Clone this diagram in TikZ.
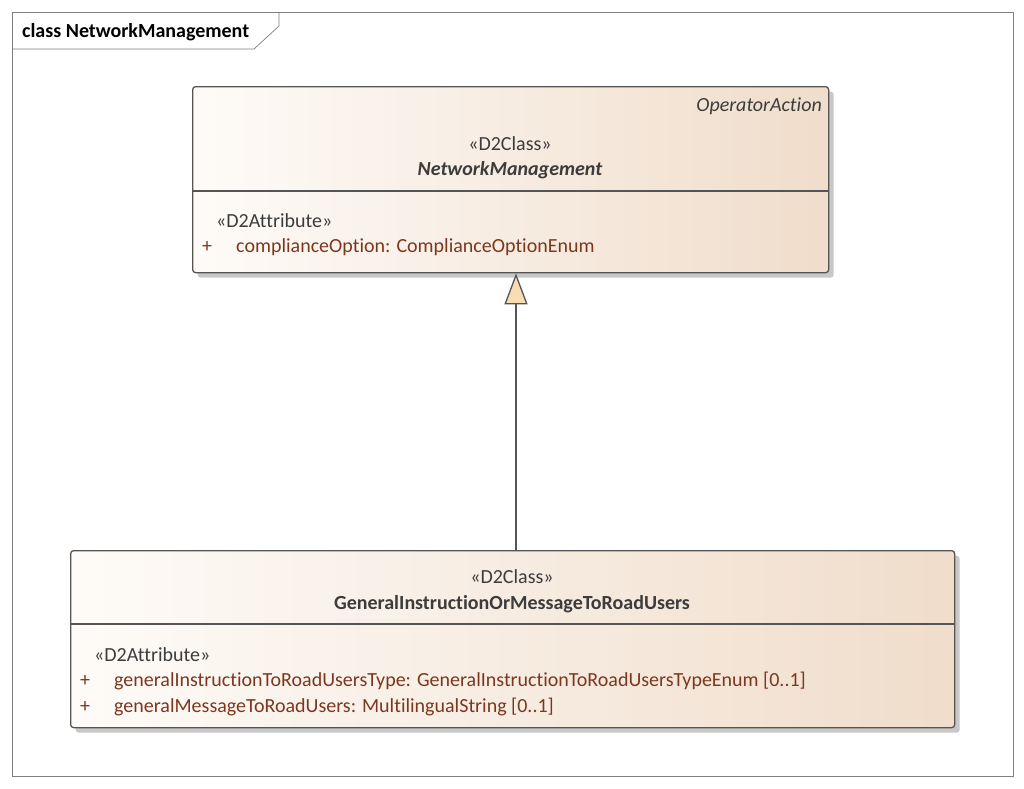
\documentclass[tikz,border=0pt]{standalone}
\usepackage{fontspec}
\setmainfont{Carlito}[Ligatures={NoCommon}]
\usetikzlibrary{arrows.meta,shadows}

\definecolor{linecol}{RGB}{85,85,85}
\definecolor{framecol}{RGB}{128,128,128}
\definecolor{stereo}{RGB}{60,60,60}
\definecolor{attrcol}{RGB}{125,55,30}
\definecolor{trifill}{RGB}{248,221,179}
\definecolor{shadeleft}{RGB}{254,251,248}
\definecolor{shaderight}{RGB}{240,221,203}
\definecolor{shadowcol}{RGB}{200,200,200}

\tikzset{
  classbox/.style={draw=linecol, line width=1.3pt, rounded corners=3pt,
    left color=shadeleft, right color=shaderight, anchor=north west,
    drop shadow={shadow xshift=5pt, shadow yshift=-5pt, fill=shadowcol, opacity=1}},
  txt/.style={font=\fontsize{20}{24}\selectfont, inner sep=0pt},
  stereotxt/.style={txt, text=stereo},
  attrtxt/.style={txt, text=attrcol, anchor=west},
  genarrow/.style={draw=linecol, line width=1.3pt,
    -{Triangle[width=23pt,length=31pt,fill=trifill]}}
}

\begin{document}
\begin{tikzpicture}[x=1pt,y=-1pt]
    \useasboundingbox[fill=white] (0,0) rectangle (1024,788);
    % Rahmen
    \draw[framecol, line width=0.7pt] (12,12) rectangle (1013,776);
    \draw[framecol, line width=0.7pt] (12,49) -- (254,49) -- (279,26) -- (279,12);
    \node[txt, anchor=west, font=\fontsize{20}{24}\selectfont\bfseries] (title) at (22,32) {class NetworkManagement};
    % Klassen
    \node[classbox, minimum width=636pt, minimum height=186pt] (nm) at (192,86) {};
    \node[classbox, minimum width=884pt, minimum height=177pt] (gi) at (70,550) {};
    \draw[linecol, line width=1.3pt] (nm.west |- 0,191) -- (nm.east |- 0,191);
    \draw[linecol, line width=1.3pt] (gi.west |- 0,624) -- (gi.east |- 0,624);
    % Texte oben
    \node[stereotxt, anchor=east, font=\fontsize{20}{24}\selectfont\itshape] (nmpkg) at (822,106) {OperatorAction};
    \node[stereotxt] (nmst) at (510,144) {«D2Class»};
    \node[stereotxt, font=\fontsize{20}{24}\selectfont\bfseries\itshape] (nmname) at (510,170) {NetworkManagement};
    \node[stereotxt, anchor=west] (nmattst) at (216,221) {«D2Attribute»};
    \node[attrtxt] (nmplus) at (202,247) {+};
    \node[attrtxt] (nmatt) at (236,247) {complianceOption: ComplianceOptionEnum};
    % Texte unten
    \node[stereotxt] (gist) at (512,577) {«D2Class»};
    \node[stereotxt, font=\fontsize{20}{24}\selectfont\bfseries] (giname) at (512,604) {GeneralInstructionOrMessageToRoadUsers};
    \node[stereotxt, anchor=west] (giattst) at (94,655) {«D2Attribute»};
    \node[attrtxt] (giplusa) at (80,681) {+};
    \node[attrtxt] (giatta) at (114,681) {generalInstructionToRoadUsersType: GeneralInstructionToRoadUsersTypeEnum [0..1]};
    \node[attrtxt] (giplusb) at (80,707) {+};
    \node[attrtxt] (giattb) at (114,707) {generalMessageToRoadUsers: MultilingualString [0..1]};
    % Generalisierung
    \coordinate (gx) at (516,0);
    \draw[genarrow] (gi.north -| gx) -- (nm.south -| gx);
\end{tikzpicture}
\end{document}
